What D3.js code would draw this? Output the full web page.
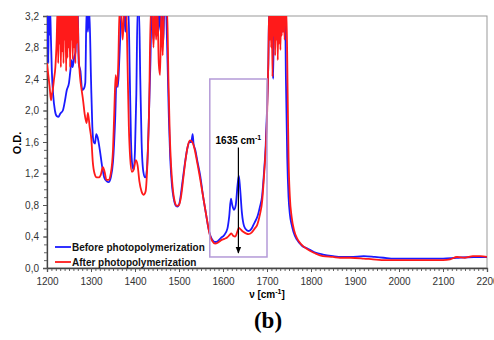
<!DOCTYPE html>
<html><head><meta charset="utf-8">
<script src="https://cdn.jsdelivr.net/npm/d3@7"></script>
<style>
body{margin:0;background:#fff;}
svg{display:block;}
</style></head>
<body>
<svg id="chart" width="494" height="340"></svg>
<script>
// ---- data ----
const xTicks = [1200,1300,1400,1500,1600,1700,1800,1900,2000,2100,2200];
const yTicks = [0,0.4,0.8,1.2,1.6,2.0,2.4,2.8,3.2];
const yTickLabels = ["0,0","0,4","0,8","1,2","1,6","2,0","2,4","2,8","3,2"];
const seriesNames = ["Before photopolymerization","After photopolymerization"];

const beforeWn = [1200,1201,1202,1203,1204,1205,1207,1209,1211,1214,1218,1222,1226,1230,1236,1240,1245,1250,1253,1256,1258,1262,1265,1267,1270,1272,1276,1280,1284,1287,1290,1293,1296,1300,1303,1306,1309,1312,1315,1320,1325,1330,1336,1340,1345,1350,1355,1358,1361,1364,1367,1370,1375,1378,1382,1385,1388,1391,1394,1397,1400,1403,1406,1409,1412,1415,1419,1423,1427,1431,1435,1438,1442,1445,1448,1452,1455,1458,1461,1464,1467,1470,1474,1477,1480,1484,1488,1493,1497,1502,1508,1514,1519,1524,1528,1531,1533,1537,1542,1548,1555,1561,1567,1572,1577,1582,1588,1595,1603,1610,1614,1618,1621,1625,1629,1633,1636,1639,1643,1648,1654,1659,1665,1672,1678,1684,1689,1693,1697,1700,1703,1705,1707,1709,1712,1714,1716,1720,1723,1726,1730,1735,1738,1741,1743,1746,1749,1752,1756,1760,1768,1780,1791,1808,1827,1850,1870,1890,1920,1945,1965,1990,2050,2100,2130,2170,2200];
const beforeOD = [3.3,2.8,3.3,2.6,3.3,2.95,3.3,2.9,2.5,2.2,2.0,1.93,1.92,1.96,2.0,2.1,2.26,2.35,2.5,2.64,2.55,2.68,2.75,3.3,3.3,2.6,2.5,2.26,2.28,2.35,3.3,3.0,3.3,2.4,1.8,1.6,1.58,1.7,1.66,1.5,1.3,1.15,1.1,1.09,1.15,1.35,1.9,2.4,2.3,2.6,3.0,3.3,3.3,3.0,3.3,3.3,2.5,1.6,1.3,1.25,1.5,2.2,3.3,3.3,2.4,1.6,1.22,1.15,1.25,1.8,2.6,3.3,2.9,3.3,3.3,2.95,3.3,3.0,3.3,2.85,3.3,3.3,2.6,1.9,1.4,1.05,0.88,0.79,0.78,0.85,1.1,1.35,1.52,1.6,1.6,1.7,1.58,1.5,1.35,1.18,0.9,0.7,0.5,0.4,0.35,0.33,0.34,0.38,0.42,0.5,0.65,0.88,0.8,0.74,0.8,1.05,1.17,1.0,0.7,0.53,0.48,0.47,0.5,0.58,0.65,0.78,0.92,1.2,1.55,2.0,2.6,3.3,2.9,3.3,3.3,2.4,3.3,3.3,2.9,3.3,3.3,3.0,3.3,3.3,2.4,1.4,0.9,0.68,0.55,0.46,0.36,0.28,0.25,0.2,0.17,0.15,0.14,0.14,0.15,0.14,0.13,0.12,0.12,0.12,0.13,0.14,0.14];

const afterWn = [1200,1203,1206,1209,1211,1213,1216,1219,1222,1224,1225.5,1227,1228.5,1230,1231.5,1233,1234.5,1236,1237.5,1239,1240.5,1242,1243.5,1245,1246.5,1248,1249.5,1251,1252.5,1254,1255.5,1257,1258.5,1260,1261.5,1263,1264.5,1266,1267.5,1269,1272,1275,1279,1282,1286,1290,1293,1297,1301,1304,1308,1313,1318,1322,1327,1331,1335,1340,1345,1350,1353,1356,1359,1362,1365,1368,1372,1376,1380,1383,1386,1389,1393,1397,1402,1406,1410,1415,1420,1424,1428,1432,1436,1439,1442,1445,1448,1451,1454,1457,1460,1463,1466,1470,1473,1476,1479,1482,1486,1490,1495,1500,1505,1510,1515,1520,1525,1530,1535,1540,1546,1552,1558,1564,1570,1576,1582,1588,1595,1603,1610,1615,1619,1623,1628,1633,1636,1640,1646,1652,1658,1665,1672,1678,1684,1689,1693,1697,1700,1703,1705,1706.5,1708,1709.5,1711,1712.5,1714,1715.5,1717,1718.5,1720,1721.5,1723,1724.5,1726,1727.5,1729,1730.5,1732,1733.5,1735,1736.5,1738,1740,1742,1744,1747,1749,1752,1756,1762,1768,1778,1791,1808,1827,1850,1866,1890,1920,1941,1970,2000,2050,2100,2116,2132,2150,2168,2185,2200];
const afterOD = [2.6,2.45,2.3,2.13,2.2,2.26,2.4,2.55,2.9,3.3,2.6,3.3,2.85,3.3,2.55,3.3,2.75,3.3,2.6,3.3,2.9,3.3,2.5,3.3,2.67,3.3,2.8,3.3,2.55,3.3,2.9,3.3,2.65,3.3,2.8,3.3,2.6,3.3,2.85,3.3,2.7,2.43,2.25,2.13,1.94,1.84,1.97,1.79,1.62,1.35,1.2,1.15,1.15,1.18,1.28,1.22,1.12,1.12,1.2,1.5,2.0,2.45,2.3,2.6,3.3,3.3,2.9,3.3,3.3,2.6,1.8,1.4,1.22,1.25,1.37,1.3,1.1,0.97,0.93,0.97,1.3,2.0,3.3,3.3,2.8,3.3,2.9,3.3,2.6,2.45,3.3,2.7,3.3,3.3,3.3,2.4,1.7,1.3,1.0,0.85,0.79,0.8,0.92,1.15,1.38,1.55,1.62,1.6,1.52,1.38,1.2,1.0,0.8,0.6,0.42,0.34,0.31,0.32,0.35,0.37,0.39,0.42,0.44,0.41,0.4,0.47,0.51,0.49,0.46,0.44,0.43,0.45,0.5,0.55,0.68,0.85,1.15,1.5,1.9,2.6,3.3,2.9,3.3,2.8,3.3,2.43,3.3,2.95,3.3,2.7,3.3,2.9,3.3,2.64,3.3,2.85,3.3,2.77,3.3,2.95,3.3,3.0,3.3,2.9,3.3,3.3,2.2,1.4,0.9,0.65,0.47,0.38,0.3,0.24,0.19,0.15,0.14,0.13,0.13,0.12,0.11,0.1,0.1,0.1,0.1,0.11,0.14,0.13,0.15,0.15,0.14];

const annotWn = 1635;
const annotLabel = "1635 cm";
const boxWn = [1570,1700];
const boxOD = [0.14,2.4];

// ---- layout ----
const svg = d3.select("#chart");
const L = 47, R = 487, T = 16, B = 268;
const x = d3.scaleLinear().domain([1200,2200]).range([L,R]);
const y = d3.scaleLinear().domain([0,3.2]).range([B,T]);

svg.append("defs").append("clipPath").attr("id","clip")
  .append("rect").attr("x",L).attr("y",T).attr("width",R-L).attr("height",B-T);

// frame top/right
svg.append("rect").attr("x",L).attr("y",T).attr("width",R-L).attr("height",B-T)
  .attr("fill","none").attr("stroke","#999").attr("stroke-width",1);

// minor ticks
const yMinor = d3.range(0,3.2001,0.1);
const xMinor = d3.range(1200,2200.1,10);
svg.append("g").attr("transform",`translate(${L},0)`)
  .call(d3.axisLeft(y).tickValues(yMinor).tickSize(3).tickFormat(""))
  .call(g=>{g.select(".domain").remove(); g.selectAll("line").attr("stroke","#666");});
svg.append("g").attr("transform",`translate(0,${B})`)
  .call(d3.axisBottom(x).tickValues(xMinor).tickSize(3).tickFormat(""))
  .call(g=>{g.select(".domain").remove(); g.selectAll("line").attr("stroke","#666");});

// major axes
const yAxis = svg.append("g").attr("transform",`translate(${L},0)`)
  .call(d3.axisLeft(y).tickValues(yTicks).tickSize(4).tickPadding(4)
    .tickFormat((d,i)=>yTickLabels[i]));
const xAxis = svg.append("g").attr("transform",`translate(0,${B})`)
  .call(d3.axisBottom(x).tickValues(xTicks).tickSize(4).tickPadding(6).tickFormat(d3.format("d")));
[yAxis,xAxis].forEach(g=>{
  g.select(".domain").attr("stroke","#444").attr("stroke-width",1.3);
  g.selectAll(".tick line").attr("stroke","#555");
  g.selectAll(".tick text").attr("font-family","Arial, 'Liberation Sans', sans-serif")
    .attr("font-size",10).attr("fill","#333");
});

// lines
const line = d3.line().x(d=>x(d[0])).y(d=>y(d[1])).curve(d3.curveMonotoneX);
const gLines = svg.append("g").attr("clip-path","url(#clip)");
gLines.append("path").datum(d3.zip(beforeWn,beforeOD))
  .attr("d",line).attr("fill","none").attr("stroke","#1a1aff").attr("stroke-width",1.8);
gLines.append("path").datum(d3.zip(afterWn,afterOD))
  .attr("d",line).attr("fill","none").attr("stroke","#ff1a1a").attr("stroke-width",1.8);

// purple box
svg.append("rect").attr("x",x(boxWn[0])).attr("y",y(boxOD[1]))
  .attr("width",x(boxWn[1])-x(boxWn[0])).attr("height",y(boxOD[0])-y(boxOD[1]))
  .attr("fill","none").attr("stroke","#b49ad8").attr("stroke-width",1.5);

// annotation arrow
const defs = svg.select("defs");
defs.append("marker").attr("id","arr").attr("viewBox","0 0 10 10").attr("refX",9).attr("refY",5)
  .attr("markerWidth",6).attr("markerHeight",6).attr("orient","auto")
  .append("path").attr("d","M0,1 L10,5 L0,9 Z").attr("fill","#000");
svg.append("line").attr("x1",x(annotWn)).attr("x2",x(annotWn))
  .attr("y1",y(1.53)).attr("y2",y(0.19)).attr("stroke","#000").attr("stroke-width",1.2)
  .attr("marker-end","url(#arr)");
const at = svg.append("text").attr("x",x(annotWn)).attr("y",y(1.57)).attr("text-anchor","middle")
  .attr("font-family","Arial, 'Liberation Sans', sans-serif").attr("font-weight","bold").attr("font-size",10);
at.append("tspan").text(annotLabel);
at.append("tspan").attr("dy",-4).attr("font-size",7).text("-1");

// legend
const legend = svg.append("g").attr("font-family","Arial, 'Liberation Sans', sans-serif")
  .attr("font-weight","bold").attr("font-size",10);
const legColors = ["#1a1aff","#ff1a1a"];
seriesNames.forEach((n,i)=>{
  const yy = 247 + i*15;
  legend.append("line").attr("x1",55).attr("x2",71).attr("y1",yy).attr("y2",yy)
    .attr("stroke",legColors[i]).attr("stroke-width",1.8);
  legend.append("text").attr("x",72).attr("y",yy+3.5).attr("fill","#111").text(n);
});

// axis titles
svg.append("text").attr("transform","translate(21,143) rotate(-90)").attr("text-anchor","middle")
  .attr("font-family","Arial, 'Liberation Sans', sans-serif").attr("font-weight","bold")
  .attr("font-size",11).text("O.D.");
const xt = svg.append("text").attr("x",267).attr("y",298).attr("text-anchor","middle")
  .attr("font-family","Arial, 'Liberation Sans', sans-serif").attr("font-weight","bold").attr("font-size",10);
xt.append("tspan").text("ν [cm");
xt.append("tspan").attr("dy",-4).attr("font-size",7).text("-1");
xt.append("tspan").attr("dy",4).text("]");

svg.append("text").attr("x",268).attr("y",328).attr("text-anchor","middle")
  .attr("font-family","'Times New Roman', 'Liberation Serif', serif").attr("font-weight","bold")
  .attr("font-size",23).text("(b)");
</script>
</body></html>
